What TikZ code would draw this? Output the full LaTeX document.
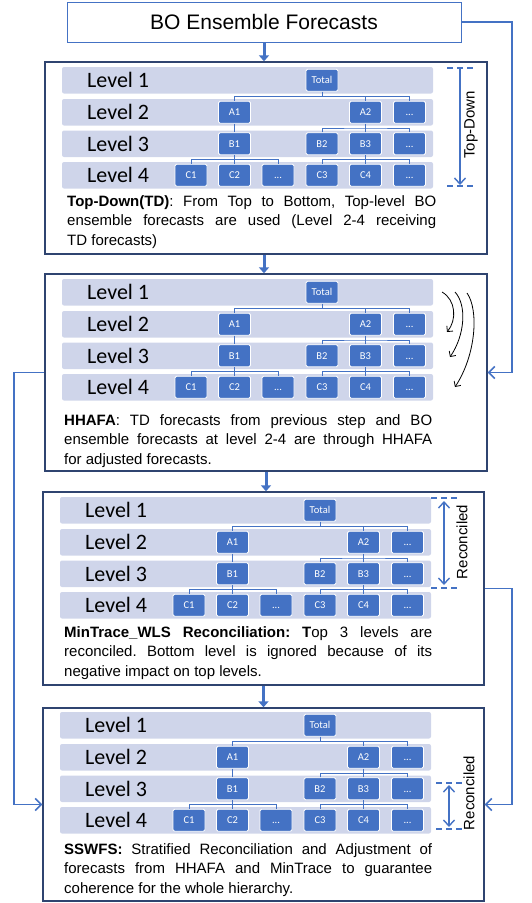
\documentclass[tikz,border=0pt]{standalone}
\usepackage{fontspec}
\setmainfont{Liberation Sans}
\newfontfamily\carl{Carlito}
\usetikzlibrary{arrows.meta}
\frenchspacing
\definecolor{nodeblue}{HTML}{4472C4}
\definecolor{bandc}{HTML}{CFD5EA}
\definecolor{boxc}{HTML}{2F4470}
\tikzset{
  band/.style={fill=bandc, rounded corners=2pt, minimum width=371pt, minimum height=26.5pt, inner sep=0pt},
  levlab/.style={anchor=west, inner sep=0pt, font=\carl\fontsize{22}{26}\selectfont},
  tn/.style={rectangle, fill=nodeblue, draw=white, line width=0.9pt, rounded corners=1.5pt,
    minimum width=32pt, minimum height=22pt, inner sep=0pt, text=white,
    text height=6.8pt, text depth=0pt,
    font=\carl\fontsize{10.5}{12}\selectfont},
  tl/.style={draw=nodeblue, line width=0.9pt},
  panelbox/.style={draw=boxc, line width=1.4pt, inner sep=0pt},
  topbox/.style={draw=nodeblue, line width=1pt, inner sep=0pt, font=\fontsize{21}{25}\selectfont},
  desc/.style={anchor=base west, inner sep=0pt, font=\fontsize{15}{19.5}\selectfont},
  rotlab/.style={rotate=90, inner sep=0pt, font=\fontsize{15}{18}\selectfont},
  dnarrow/.style={draw=nodeblue, line width=3pt, -{Triangle[length=6pt,width=10pt]}},
  bconn/.style={draw=nodeblue, line width=1.6pt, -{Straight Barb[length=6pt,width=12pt]}},
  rangearrow/.style={draw=nodeblue, line width=1.4pt},
  ticks/.style={draw=nodeblue, line width=1.6pt, dash pattern=on 6pt off 4pt},
  curvearrow/.style={draw=black, line width=0.8pt, -{Straight Barb[length=4pt,width=8pt]}}
}
\newcommand\hpanel[3]{%
\begin{scope}[shift={(#2,#3)}]
\foreach \i/\t in {1/0,2/32,3/63.5,4/95}{
  \node[band] (#1band\i) at (185.5,\t+13.25) {};
  \node[levlab] (#1lev\i) at (25,\t+13.25) {Level \i};
}
\node[tn] (#1T) at (260,13.25) {Total};
\node[tn] (#1A1) at (172.5,45.25) {A1};
\node[tn] (#1A2) at (303.5,45.25) {A2};
\node[tn] (#1A3) at (347.5,45.25) {...};
\node[tn] (#1B1) at (172.5,76.75) {B1};
\node[tn] (#1B2) at (260,76.75) {B2};
\node[tn] (#1B3) at (303.5,76.75) {B3};
\node[tn] (#1B4) at (347.5,76.75) {...};
\node[tn] (#1C1) at (129,108.25) {C1};
\node[tn] (#1C2) at (172.5,108.25) {C2};
\node[tn] (#1C3) at (216,108.25) {...};
\node[tn] (#1C4) at (260,108.25) {C3};
\node[tn] (#1C5) at (303.5,108.25) {C4};
\node[tn] (#1C6) at (347.5,108.25) {...};
\coordinate (#1b1) at (260,29.5);
\coordinate (#1b2) at (303.5,61);
\coordinate (#1b3) at (172.5,92.5);
\coordinate (#1b4) at (303.5,92.5);
\draw[tl] (#1T.south) -- (#1b1);
\draw[tl] (#1A1.north) |- (#1b1) -| (#1A3.north);
\draw[tl] (#1A2.north) -- (#1A2.north |- #1b1);
\draw[tl] (#1A1.south) -- (#1B1.north);
\draw[tl] (#1A2.south) -- (#1b2);
\draw[tl] (#1B2.north) |- (#1b2) -| (#1B4.north);
\draw[tl] (#1B3.north) -- (#1b2);
\draw[tl] (#1B1.south) -- (#1b3);
\draw[tl] (#1C1.north) |- (#1b3) -| (#1C3.north);
\draw[tl] (#1C2.north) -- (#1b3);
\draw[tl] (#1B3.south) -- (#1b4);
\draw[tl] (#1C4.north) |- (#1b4) -| (#1C6.north);
\draw[tl] (#1C5.north) -- (#1b4);
\end{scope}}
\begin{document}
\begin{tikzpicture}[x=1pt,y=-1pt]
\useasboundingbox (0,0) rectangle (531,903);
% boxes
\node[topbox, minimum width=394pt, minimum height=40pt] (top) at (264,22) {BO Ensemble Forecasts};
\node[panelbox, minimum width=442pt, minimum height=192pt] (box1) at (266,158) {};
\node[panelbox, minimum width=442pt, minimum height=197pt] (box2) at (266,372.5) {};
\node[panelbox, minimum width=441pt, minimum height=193pt] (box3) at (263.5,588.5) {};
\node[panelbox, minimum width=441pt, minimum height=193pt] (box4) at (263.5,804.5) {};
% panels
\hpanel{p}{62}{67}
\hpanel{q}{62}{279}
\hpanel{r}{60}{497}
\hpanel{s}{60}{712}
% descriptions
\node[desc] (d1) at (67,206) {\parbox[t]{369pt}{\textbf{Top-Down(TD)}: From Top to Bottom, Top-level BO\linebreak ensemble forecasts are used (Level 2-4 receiving\linebreak TD forecasts)}};
\node[desc] (d2) at (64,425) {\parbox[t]{368pt}{\textbf{HHAFA}: TD forecasts from previous step and BO\linebreak ensemble forecasts at level 2-4 are through HHAFA\linebreak for adjusted forecasts.}};
\node[desc] (d3) at (64,637) {\parbox[t]{368pt}{\textbf{MinTrace\_WLS Reconciliation: T}op 3 levels are\linebreak reconciled. Bottom level is ignored because of its\linebreak negative impact on top levels.}};
\node[desc] (d4) at (64,854) {\parbox[t]{368pt}{\textbf{SSWFS:} Stratified Reconciliation and Adjustment of\linebreak forecasts from HHAFA and MinTrace to guarantee\linebreak coherence for the whole hierarchy.}};
% arrows between boxes
\draw[dnarrow] (top.south) -- (top.south |- box1.north);
\draw[dnarrow] (box1.south -| top.south) -- (top.south |- box2.north);
\draw[dnarrow] (box2.south) -- (box2.south |- box3.north);
\draw[dnarrow] (box3.south) -- (box3.south |- box4.north);
% side connectors
\coordinate (j1) at (512,200);
\coordinate (j2) at (14,600);
\coordinate (j3) at (512,700);
\draw[bconn] (top.east) -| (j1) |- (box2.east);
\draw[bconn] (box2.west) -| (j2) |- (box4.west);
\draw[bconn] (box3.east) -| (j3) |- (box4.east);
% Top-Down range
\coordinate (tdA) at (460,68);
\coordinate (tdB) at (460,186);
\draw[ticks] ([xshift=-13pt]tdA) -- ([xshift=13pt]tdA);
\draw[ticks] ([xshift=-13pt]tdB) -- ([xshift=13pt]tdB);
\draw[rangearrow, -{Straight Barb[length=6pt,width=11pt]}] (tdA) -- ([yshift=1pt]tdB);
\node[rotlab] (tdlab) at (471,125) {Top-Down};
% Reconciled range box3
\coordinate (rcA) at (444,498);
\coordinate (rcB) at (444,588);
\draw[ticks] ([xshift=-13pt]rcA) -- ([xshift=13pt]rcA);
\draw[ticks] ([xshift=-13pt]rcB) -- ([xshift=13pt]rcB);
\draw[rangearrow, {Straight Barb[length=6pt,width=11pt]}-{Straight Barb[length=6pt,width=11pt]}] ([yshift=-3pt]rcA) -- ([yshift=3pt]rcB);
\node[rotlab] (rclab) at (462,542) {Reconciled};
% Reconciled range box4
\coordinate (rdA) at (449,783);
\coordinate (rdB) at (449,829);
\draw[ticks] ([xshift=-13pt]rdA) -- ([xshift=13pt]rdA);
\draw[ticks] ([xshift=-13pt]rdB) -- ([xshift=13pt]rdB);
\draw[rangearrow, {Straight Barb[length=6pt,width=11pt]}-{Straight Barb[length=6pt,width=11pt]}] ([yshift=-2pt]rdA) -- ([yshift=2pt]rdB);
\node[rotlab] (rdlab) at (469,793) {Reconciled};
% curved arrows in box2
\coordinate (ca1) at (442,292);
\coordinate (cb1) at (447,332);
\coordinate (ca2) at (455,292);
\coordinate (cb2) at (450,357);
\coordinate (ca3) at (467,293);
\coordinate (cb3) at (455,387);
\draw[curvearrow] (ca1) .. controls (456,300) and (457,320) .. (cb1);
\draw[curvearrow] (ca2) .. controls (467,305) and (465,335) .. (cb2);
\draw[curvearrow] (ca3) .. controls (479,310) and (476,355) .. (cb3);
\end{tikzpicture}
\end{document}
